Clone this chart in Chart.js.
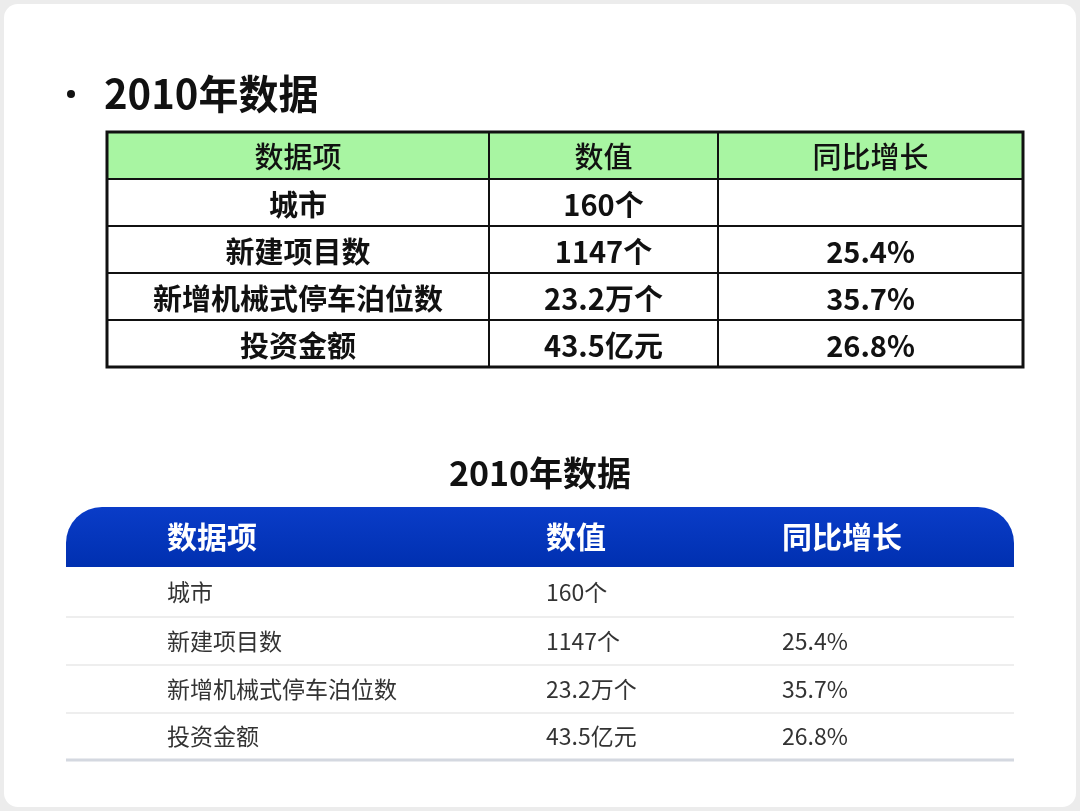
<!DOCTYPE html>
<html><head><meta charset="utf-8">
<script src="https://cdn.jsdelivr.net/npm/chart.js@4/dist/chart.umd.min.js"></script>
<style>html,body{margin:0;padding:0;background:#ececec;}canvas{display:block;}</style>
</head><body>
<canvas id="c" width="1080" height="811"></canvas>
<script>
const title = "2010年数据";
const headers = ["数据项", "数值", "同比增长"];
const items = ["城市", "新建项目数", "新增机械式停车泊位数", "投资金额"];
const values = ["160个", "1147个", "23.2万个", "43.5亿元"];
const growth = ["", "25.4%", "35.7%", "26.8%"];

const F = '"Noto Sans CJK SC","Noto Sans",sans-serif';
const tablePlugin = {
  id: 'tables',
  afterDraw(chart) {
    const ctx = chart.ctx;
    ctx.save();
    ctx.fillStyle = '#ffffff';
    ctx.beginPath(); ctx.roundRect(4, 4, 1072, 803, 14); ctx.fill();
    ctx.fillStyle = '#111';
    ctx.textBaseline = 'middle';
    ctx.beginPath(); ctx.arc(71, 94, 4, 0, Math.PI * 2); ctx.fill();
    ctx.font = 'bold 40px ' + F; ctx.textAlign = 'left';
    ctx.fillText(title, 104, 94);
    const cols = [107, 489, 718, 1023];
    const rowY = [132, 179, 226, 273, 320, 367];
    ctx.fillStyle = '#a8f5a2';
    ctx.fillRect(cols[0], rowY[0], cols[3] - cols[0], rowY[1] - rowY[0]);
    ctx.strokeStyle = '#111'; ctx.lineWidth = 2;
    rowY.forEach(y => { ctx.beginPath(); ctx.moveTo(cols[0], y); ctx.lineTo(cols[3], y); ctx.stroke(); });
    cols.forEach(x => { ctx.beginPath(); ctx.moveTo(x, rowY[0]); ctx.lineTo(x, rowY[5]); ctx.stroke(); });
    ctx.lineWidth = 3; ctx.strokeRect(cols[0], rowY[0], cols[3] - cols[0], rowY[5] - rowY[0]);
    ctx.fillStyle = '#111'; ctx.textAlign = 'center';
    ctx.font = '500 29px ' + F;
    headers.forEach((h, i) => ctx.fillText(h, (cols[i] + cols[i + 1]) / 2, 157));
    ctx.font = 'bold 29px ' + F;
    items.forEach((t, r) => {
      const y = (rowY[r + 1] + rowY[r + 2]) / 2 + 2;
      ctx.fillText(t, (cols[0] + cols[1]) / 2, y);
      ctx.fillText(values[r], (cols[1] + cols[2]) / 2, y);
      ctx.fillText(growth[r], (cols[2] + cols[3]) / 2, y);
    });
    ctx.font = 'bold 34px ' + F;
    ctx.fillText(title, 540, 473);
    const g = ctx.createLinearGradient(0, 507, 0, 567);
    g.addColorStop(0, '#0a3cc8'); g.addColorStop(1, '#0030b0');
    ctx.fillStyle = g;
    ctx.beginPath(); ctx.roundRect(66, 507, 948, 60, [36, 36, 0, 0]); ctx.fill();
    const xs = [167, 546, 782];
    ctx.textAlign = 'left'; ctx.fillStyle = '#fff';
    ctx.font = 'bold 30px ' + F;
    headers.forEach((h, i) => ctx.fillText(h, xs[i], 537));
    const ry = [567, 617, 665, 713, 760];
    ctx.font = '23px ' + F; ctx.fillStyle = '#333';
    items.forEach((t, r) => {
      const y = (ry[r] + ry[r + 1]) / 2;
      ctx.fillText(t, xs[0], y); ctx.fillText(values[r], xs[1], y); ctx.fillText(growth[r], xs[2], y);
      ctx.strokeStyle = r === 3 ? '#d4d8e0' : '#e8e8e8'; ctx.lineWidth = r === 3 ? 3 : 1.5;
      ctx.beginPath(); ctx.moveTo(66, ry[r + 1]); ctx.lineTo(1014, ry[r + 1]); ctx.stroke();
    });
    ctx.restore();
  }
};
new Chart(document.getElementById('c'), {
  type: 'bar',
  data: { labels: items, datasets: [{ data: [], label: title }] },
  options: {
    responsive: false, animation: false,
    plugins: { legend: { display: false }, tooltip: { enabled: false } },
    scales: { x: { display: false }, y: { display: false } }
  },
  plugins: [tablePlugin]
});
</script>
</body></html>
